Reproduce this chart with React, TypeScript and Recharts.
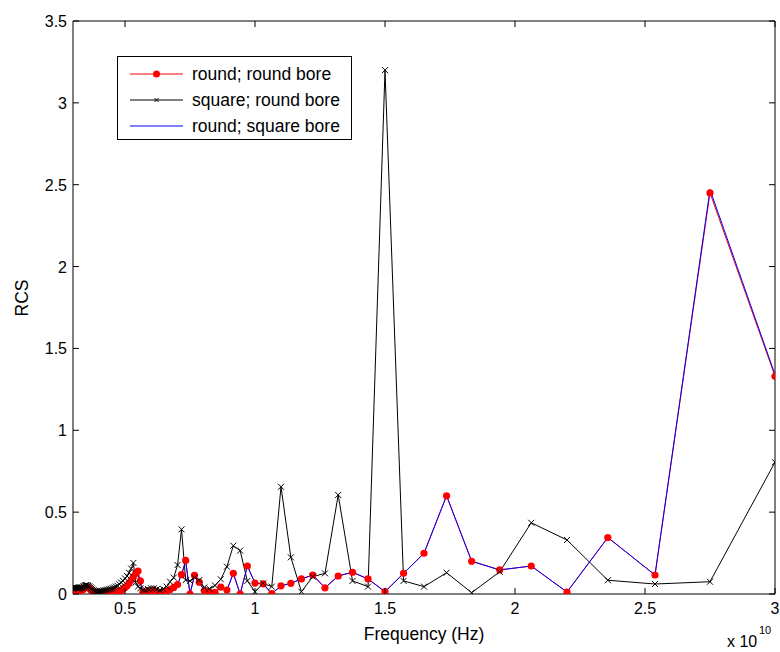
import * as React from "react";
import { LineChart, Line, XAxis, YAxis, Legend } from "recharts";

// frequency in units of 1e10 Hz
const freq = [
  3.0, 2.75, 2.5385, 2.3571, 2.2, 2.0625, 1.9412, 1.8333, 1.7368, 1.65,
  1.5714, 1.5, 1.4348, 1.375, 1.32, 1.2692, 1.2222, 1.1786, 1.1379, 1.1,
  1.0645, 1.0313, 1.0, 0.9706, 0.9429, 0.9167, 0.8919, 0.8684, 0.8462, 0.825,
  0.8049, 0.7857, 0.7674, 0.75, 0.7333, 0.7174, 0.7021, 0.6875, 0.6735, 0.66,
  0.6471, 0.6346, 0.6226, 0.6111, 0.6, 0.5893, 0.5789, 0.569, 0.5593, 0.55,
  0.541, 0.5323, 0.5238, 0.5156, 0.5077, 0.5, 0.4925, 0.4853, 0.4783, 0.4714,
  0.4648, 0.4583, 0.452, 0.4459, 0.44, 0.4342, 0.4286, 0.4231, 0.4177, 0.4125,
  0.4074, 0.4024, 0.3976, 0.3929, 0.3882, 0.3837, 0.3793, 0.375, 0.3708, 0.3667,
  0.3626, 0.3587, 0.3548, 0.3511, 0.3474, 0.3438, 0.3402, 0.3367, 0.3333, 0.33,
  0.3267, 0.3235, 0.3204, 0.3173, 0.3143, 0.3113, 0.3084, 0.3056, 0.3028, 0.3,
];

const roundRound = [
  1.33, 2.45, 0.116, 0.345, 0.012, 0.171, 0.147, 0.2, 0.6, 0.249,
  0.126, 0.014, 0.092, 0.133, 0.11, 0.038, 0.116, 0.092, 0.065, 0.05,
  0.002, 0.062, 0.067, 0.171, 0.0, 0.126, 0.024, 0.042, 0.01, 0.012,
  0.02, 0.072, 0.114, 0.0, 0.205, 0.118, 0.058, 0.04, 0.028, 0.018,
  0.005, 0.003, 0.01, 0.022, 0.015, 0.02, 0.005, 0.012, 0.08, 0.14,
  0.125, 0.105, 0.085, 0.065, 0.05, 0.04, 0.03, 0.022, 0.018, 0.018,
  0.019, 0.019, 0.018, 0.016, 0.015, 0.013, 0.012, 0.01, 0.008, 0.006,
  0.005, 0.005, 0.006, 0.007, 0.008, 0.009, 0.01, 0.015, 0.022, 0.03,
  0.036, 0.041, 0.044, 0.044, 0.04, 0.035, 0.03, 0.026, 0.024, 0.023,
  0.022, 0.023, 0.024, 0.025, 0.025, 0.026, 0.026, 0.026, 0.025, 0.025,
];

const squareRound = [
  0.805, 0.075, 0.061, 0.084, 0.33, 0.435, 0.136, 0.008, 0.13, 0.045,
  0.08, 3.2, 0.045, 0.08, 0.605, 0.126, 0.106, 0.014, 0.224, 0.655,
  0.045, 0.065, 0.014, 0.08, 0.265, 0.295, 0.167, 0.09, 0.052, 0.032,
  0.04, 0.085, 0.1, 0.08, 0.085, 0.395, 0.177, 0.1, 0.075, 0.045,
  0.03, 0.025, 0.03, 0.035, 0.035, 0.03, 0.025, 0.025, 0.035, 0.045,
  0.07, 0.19, 0.155, 0.13, 0.11, 0.095, 0.08, 0.07, 0.06, 0.05,
  0.045, 0.04, 0.036, 0.032, 0.03, 0.027, 0.025, 0.023, 0.021, 0.019,
  0.017, 0.016, 0.015, 0.015, 0.016, 0.018, 0.022, 0.027, 0.033, 0.04,
  0.046, 0.05, 0.053, 0.055, 0.053, 0.05, 0.046, 0.042, 0.039, 0.037,
  0.035, 0.034, 0.034, 0.035, 0.036, 0.037, 0.038, 0.039, 0.04, 0.04,
];

const roundSquare = [
  1.34, 2.47, 0.116, 0.345, 0.012, 0.171, 0.147, 0.2, 0.6, 0.249,
  0.126, 0.014, 0.092, 0.133, 0.11, 0.038, 0.116, 0.092, 0.065, 0.05,
  0.002, 0.062, 0.067, 0.171, 0.0, 0.126, 0.024, 0.042, 0.01, 0.012,
  0.02, 0.072, 0.114, 0.0, 0.2, 0.118, 0.06, 0.042, 0.03, 0.02,
  0.008, 0.006, 0.012, 0.024, 0.018, 0.022, 0.008, 0.015, 0.06, 0.115,
  0.125, 0.11, 0.09, 0.07, 0.055, 0.045, 0.035, 0.027, 0.024, 0.024,
  0.025, 0.025, 0.024, 0.022, 0.021, 0.019, 0.018, 0.016, 0.014, 0.012,
  0.011, 0.011, 0.012, 0.013, 0.014, 0.015, 0.016, 0.021, 0.028, 0.036,
  0.042, 0.047, 0.05, 0.05, 0.046, 0.041, 0.036, 0.032, 0.03, 0.029,
  0.028, 0.029, 0.03, 0.031, 0.031, 0.032, 0.032, 0.032, 0.031, 0.031,
];

const xTicks = [0.5, 1, 1.5, 2, 2.5, 3];
const yTicks = [0, 0.5, 1, 1.5, 2, 2.5, 3, 3.5];

const data = freq.map((f, i) => ({
  f,
  rr: roundRound[i],
  sr: squareRound[i],
  rs: roundSquare[i],
}));

const FONT = '"Liberation Sans", Arial, Helvetica, sans-serif';

const BottomTick = (props: any) => {
  const { x, y, payload } = props;
  return (
    <g>
      <line x1={x} y1={y} x2={x} y2={y - 6} stroke="#000" />
      <text x={x} y={y + 20} textAnchor="middle" fontSize={16} fontFamily={FONT} fill="#000">
        {String(payload.value)}
      </text>
    </g>
  );
};

const TopTick = (props: any) => {
  const { x, y } = props;
  return <line x1={x} y1={y} x2={x} y2={y + 6} stroke="#000" />;
};

const LeftTick = (props: any) => {
  const { x, y, payload } = props;
  return (
    <g>
      <line x1={x} y1={y} x2={x + 6} y2={y} stroke="#000" />
      <text x={x - 6} y={y + 6} textAnchor="end" fontSize={16} fontFamily={FONT} fill="#000">
        {String(payload.value)}
      </text>
    </g>
  );
};

const RightTick = (props: any) => {
  const { x, y } = props;
  return <line x1={x} y1={y} x2={x - 6} y2={y} stroke="#000" />;
};

const Cross = (props: any) => {
  const { cx, cy, index } = props;
  if (cx == null || cy == null) return <g key={index} />;
  const s = 3;
  return (
    <path
      key={index}
      d={`M${cx - s},${cy - s}L${cx + s},${cy + s}M${cx - s},${cy + s}L${cx + s},${cy - s}`}
      stroke="#000"
      strokeWidth={1}
      fill="none"
    />
  );
};

const legendRows = [
  { name: "round; round bore", color: "#ff0000", marker: "dot" },
  { name: "square; round bore", color: "#000000", marker: "cross" },
  { name: "round; square bore", color: "#0000ff", marker: "none" },
];

const LegendBox = () => (
  <div
    style={{
      position: "relative",
      width: 233,
      height: 82,
      border: "1px solid #000",
      background: "#fff",
      fontFamily: FONT,
      fontSize: 17.5,
      color: "#000",
    }}
  >
    {legendRows.map((r, i) => (
      <div key={r.name} style={{ position: "absolute", left: 0, top: 4 + i * 26, height: 26, width: 233 }}>
        <svg width={70} height={26} style={{ position: "absolute", left: 0, top: 0 }}>
          <line x1={12} y1={13} x2={65} y2={13} stroke={r.color} strokeWidth={1} />
          {r.marker === "dot" && <circle cx={38.5} cy={13} r={3.5} fill={r.color} />}
          {r.marker === "cross" && (
            <path d="M36.5,11L40.5,15M36.5,15L40.5,11" stroke={r.color} strokeWidth={1} />
          )}
        </svg>
        <span style={{ position: "absolute", left: 74, top: 2, whiteSpace: "nowrap", lineHeight: "22px" }}>
          {r.name}
        </span>
      </div>
    ))}
  </div>
);

export default function App() {
  return (
    <div style={{ position: "absolute", left: 0, top: 0, width: 780, height: 652, background: "#fff" }}>
      <LineChart
        width={780}
        height={652}
        data={data}
        margin={{ top: 20, right: 4, bottom: 57, left: 13 }}
      >
        <XAxis
          dataKey="f"
          type="number"
          domain={[0.3, 3]}
          ticks={xTicks}
          allowDataOverflow
          height={1}
          tickSize={0}
          tickMargin={0}
          tickLine={false}
          axisLine={{ stroke: "#000" }}
          tick={<BottomTick />}
          interval={0}
        />
        <XAxis
          xAxisId="top"
          orientation="top"
          dataKey="f"
          type="number"
          domain={[0.3, 3]}
          ticks={xTicks}
          allowDataOverflow
          height={1}
          tickSize={0}
          tickMargin={0}
          tickLine={false}
          axisLine={{ stroke: "#000" }}
          tick={<TopTick />}
          interval={0}
        />
        <YAxis
          type="number"
          domain={[0, 3.5]}
          ticks={yTicks}
          allowDataOverflow
          width={60}
          tickSize={0}
          tickMargin={0}
          tickLine={false}
          axisLine={{ stroke: "#000" }}
          tick={<LeftTick />}
          interval={0}
        />
        <YAxis
          yAxisId="right"
          orientation="right"
          type="number"
          domain={[0, 3.5]}
          ticks={yTicks}
          allowDataOverflow
          width={1}
          tickSize={0}
          tickMargin={0}
          tickLine={false}
          axisLine={{ stroke: "#000" }}
          tick={<RightTick />}
          interval={0}
        />
        <Legend
          layout="vertical"
          align="center"
          verticalAlign="middle"
          wrapperStyle={{ left: 117, top: 56, width: 235, height: 84 }}
          content={() => <LegendBox />}
        />
        <Line
          dataKey="rr"
          name="round; round bore"
          type="linear"
          stroke="#ff0000"
          strokeWidth={1}
          dot={{ r: 3.6, fill: "#ff0000", stroke: "#ff0000", strokeWidth: 0 }}
          isAnimationActive={false}
        />
        <Line
          dataKey="sr"
          name="square; round bore"
          type="linear"
          stroke="#000000"
          strokeWidth={1}
          dot={<Cross />}
          isAnimationActive={false}
        />
        <Line
          dataKey="rs"
          name="round; square bore"
          type="linear"
          stroke="#0000ff"
          strokeWidth={1}
          dot={false}
          isAnimationActive={false}
        />
      </LineChart>
      <svg
        width={780}
        height={652}
        style={{ position: "absolute", left: 0, top: 0, pointerEvents: "none" }}
      >
        <text x={424} y={640} textAnchor="middle" fontSize={17.5} fontFamily={FONT} fill="#000">
          Frequency (Hz)
        </text>
        <text
          x={0}
          y={0}
          transform="translate(28,298) rotate(-90)"
          textAnchor="middle"
          fontSize={17.5}
          fontFamily={FONT}
          fill="#000"
        >
          RCS
        </text>
        <text x={727} y={647} fontSize={16} fontFamily={FONT} fill="#000">
          x 10
        </text>
        <text x={759} y={634} fontSize={11} fontFamily={FONT} fill="#000">
          10
        </text>
      </svg>
    </div>
  );
}
